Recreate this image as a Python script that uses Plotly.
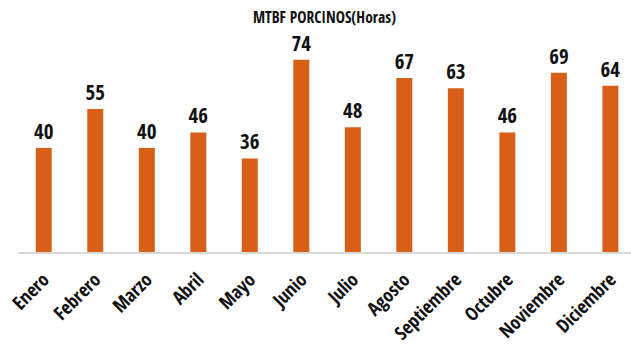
import plotly.graph_objects as go

meses = ["Enero", "Febrero", "Marzo", "Abril", "Mayo", "Junio", "Julio",
         "Agosto", "Septiembre", "Octubre", "Noviembre", "Diciembre"]
mtbf_horas = [40, 55, 40, 46, 36, 74, 48, 67, 63, 46, 69, 64]

FONT = "Open Sans Condensed, sans-serif"
NARANJA = "#D75F17"

fig = go.Figure(
    go.Bar(
        x=meses,
        y=mtbf_horas,
        marker=dict(color=NARANJA, line=dict(width=0)),
        width=0.31,
        text=[str(v) for v in mtbf_horas],
        textposition="outside",
        constraintext="none",
        textfont=dict(family=FONT, size=21, color="#111111", weight="bold"),
        cliponaxis=False,
    )
)

fig.update_layout(
    width=631,
    height=345,
    margin=dict(l=18, r=0, t=35, b=90),
    paper_bgcolor="white",
    plot_bgcolor="white",
    showlegend=False,
    title=dict(
        text="<b>MTBF PORCINOS(Horas)</b>",
        x=0.5, xref="paper", xanchor="center",
        y=0.948, yref="container", yanchor="middle",
        font=dict(family=FONT, size=15.5, color="#111111"),
    ),
    xaxis=dict(
        range=[-0.5, 11.4],
        showline=True, linecolor="#d9d9d9", linewidth=2,
        ticks="", tickangle=-45, ticklabelstandoff=7,
        tickfont=dict(family=FONT, size=19, color="#111111", weight="bold"),
        showgrid=False,
    ),
    yaxis=dict(
        range=[0, 83.5],
        visible=False, showgrid=False, zeroline=False,
    ),
)

fig.write_html("out.html")
